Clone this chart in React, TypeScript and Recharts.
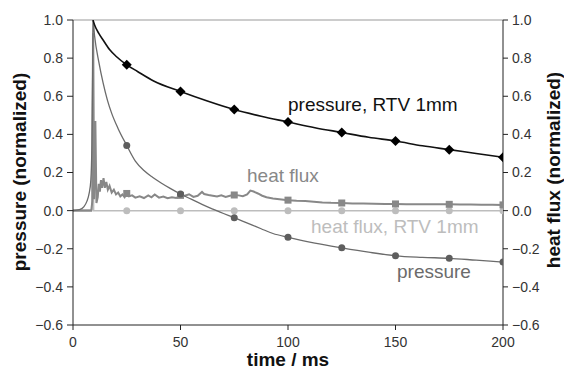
import { LineChart, Line, XAxis, YAxis, ReferenceLine } from "recharts";

const xTicks = [0, 50, 100, 150, 200];
const yTicks = [-0.6, -0.4, -0.2, 0, 0.2, 0.4, 0.6, 0.8, 1.0];
const markerTimes = [25, 50, 75, 100, 125, 150, 175, 200];

// pressure, RTV 1mm (black, diamonds)
const pressureRtvTime = [9.3, 10, 12, 14, 17, 20, 25, 30, 37.5, 50, 62.5, 75, 87.5, 100, 112.5, 125, 137.5, 150, 162.5, 175, 187.5, 200];
const pressureRtvValue = [1.0, 0.975, 0.93, 0.895, 0.845, 0.81, 0.765, 0.73, 0.68, 0.625, 0.575, 0.53, 0.495, 0.465, 0.435, 0.41, 0.385, 0.365, 0.34, 0.32, 0.3, 0.28];

// pressure (dark grey, circles)
const pressureTime = [0, 3, 5, 6.5, 7.5, 8.3, 8.8, 9.1, 9.3, 10, 12, 14, 16, 18, 21, 25, 29, 33, 37, 41, 45, 50, 55, 60, 65, 70, 75, 80, 87.5, 93, 100, 112.5, 125, 137.5, 150, 162.5, 175, 187.5, 200];
const pressureValue = [0, 0.005, 0.02, 0.05, 0.09, 0.16, 0.35, 0.7, 1.0, 0.92, 0.78, 0.67, 0.58, 0.51, 0.43, 0.342, 0.26, 0.21, 0.175, 0.145, 0.118, 0.087, 0.06, 0.033, 0.008, -0.015, -0.037, -0.06, -0.095, -0.12, -0.14, -0.17, -0.195, -0.218, -0.237, -0.245, -0.25, -0.26, -0.27];

// heat flux (grey, squares)
const heatFluxTime = [0, 5, 8.5, 9.0, 9.4, 9.8, 10.4, 10.9, 11.5, 12, 12.5, 13, 13.5, 14.2, 14.8, 15.5, 16.2, 17, 18, 19, 20, 21, 22, 23, 24, 25, 26, 27.5, 29, 31, 33, 35, 36.5, 38, 40, 42, 44, 46, 48, 50, 52, 54, 56, 58, 60, 61, 63, 65, 67, 69, 71, 73, 75, 77, 79, 81, 82.5, 84, 86, 88, 90, 93, 96, 100, 104, 108, 112, 116, 120, 125, 130, 135, 140, 145, 150, 155, 160, 165, 170, 175, 180, 185, 190, 195, 200];
const heatFluxValue = [0, 0, 0, 0.05, 0.93, 0.06, 0.47, 0.04, 0.07, 0.14, 0.1, 0.16, 0.12, 0.17, 0.12, 0.15, 0.11, 0.13, 0.095, 0.11, 0.085, 0.095, 0.075, 0.085, 0.07, 0.09, 0.075, 0.08, 0.068, 0.075, 0.066, 0.08, 0.07, 0.085, 0.068, 0.074, 0.065, 0.07, 0.066, 0.08, 0.078, 0.086, 0.072, 0.078, 0.098, 0.087, 0.082, 0.078, 0.074, 0.08, 0.072, 0.078, 0.082, 0.08, 0.076, 0.085, 0.105, 0.1, 0.09, 0.078, 0.07, 0.064, 0.06, 0.055, 0.052, 0.05, 0.046, 0.043, 0.041, 0.04, 0.038, 0.037, 0.036, 0.035, 0.035, 0.034, 0.034, 0.033, 0.033, 0.033, 0.032, 0.032, 0.031, 0.031, 0.03];

// heat flux, RTV 1mm (light grey, circles)
const heatFluxRtvTime = [0, 8.8, 9.2, 9.6, 25, 50, 75, 100, 125, 150, 175, 200];
const heatFluxRtvValue = [0.004, 0.004, 1.0, 0.0, 0, 0, 0, 0, 0, 0, 0, 0];

const zip = (ts: number[], vs: number[]) => ts.map((t, i) => ({ t, v: vs[i] }));

const pressureRtv = zip(pressureRtvTime, pressureRtvValue);
const pressure = zip(pressureTime, pressureValue);
const heatFlux = zip(heatFluxTime, heatFluxValue);
const heatFluxRtv = zip(heatFluxRtvTime, heatFluxRtvValue);

const markerSet = new Set(markerTimes);
const FONT = "'Liberation Sans', Arial, sans-serif";

function makeDot(shape: "diamond" | "circle" | "square", color: string, size: number) {
  return (props: any) => {
    const { cx, cy, payload, index } = props;
    const k = `${shape}-${color}-${index}`;
    if (cx == null || cy == null || !markerSet.has(payload.t)) return <g key={k} />;
    if (shape === "diamond") {
      return (
        <polygon
          key={k}
          points={`${cx},${cy - size} ${cx + size},${cy} ${cx},${cy + size} ${cx - size},${cy}`}
          fill={color}
        />
      );
    }
    if (shape === "square") {
      return <rect key={k} x={cx - size} y={cy - size} width={size * 2} height={size * 2} fill={color} />;
    }
    return <circle key={k} cx={cx} cy={cy} r={size} fill={color} />;
  };
}

const fmt = (v: number) => (v < -0.001 ? `\u2212${Math.abs(v).toFixed(1)}` : Math.abs(v).toFixed(1));

export default function App() {
  const tickStyle = { fontSize: 14, fill: "#333", fontFamily: FONT };
  return (
    <div style={{ position: "absolute", left: 0, top: 0, width: 564, height: 370, background: "#fff" }}>
      <LineChart width={564} height={370} margin={{ top: 20, right: 0, bottom: 0, left: 0 }}>
        <XAxis
          type="number"
          dataKey="t"
          domain={[0, 200]}
          ticks={xTicks}
          interval={0}
          height={45}
          tick={tickStyle}
          tickSize={5}
          tickMargin={7}
          axisLine={{ stroke: "#222" }}
          tickLine={{ stroke: "#222" }}
          allowDataOverflow
        />
        <YAxis
          yAxisId="left"
          domain={[-0.6, 1]}
          ticks={yTicks}
          interval={0}
          width={73}
          tick={tickStyle}
          tickFormatter={fmt}
          tickSize={6}
          tickMargin={4}
          axisLine={{ stroke: "#222" }}
          tickLine={{ stroke: "#222" }}
          allowDataOverflow
        />
        <YAxis
          yAxisId="right"
          orientation="right"
          domain={[-0.6, 1]}
          ticks={yTicks}
          interval={0}
          width={61}
          tick={tickStyle}
          tickFormatter={fmt}
          tickSize={5}
          tickMargin={4}
          axisLine={{ stroke: "#222" }}
          tickLine={{ stroke: "#222" }}
          allowDataOverflow
        />
        <ReferenceLine yAxisId="left" y={1} stroke="#999" strokeWidth={1.2} />
        <Line
          yAxisId="right"
          data={heatFluxRtv}
          dataKey="v"
          type="linear"
          stroke="#bdbdbd"
          strokeWidth={1.5}
          dot={makeDot("circle", "#bdbdbd", 3.5)}
          isAnimationActive={false}
        />
        <Line
          yAxisId="right"
          data={heatFlux}
          dataKey="v"
          type="linear"
          stroke="#888"
          strokeWidth={2}
          dot={makeDot("square", "#888", 3.5)}
          isAnimationActive={false}
        />
        <Line
          yAxisId="left"
          data={pressure}
          dataKey="v"
          type="monotone"
          stroke="#6b6b6b"
          strokeWidth={1.3}
          dot={makeDot("circle", "#5e5e5e", 3.5)}
          isAnimationActive={false}
        />
        <Line
          yAxisId="left"
          data={pressureRtv}
          dataKey="v"
          type="monotone"
          stroke="#111"
          strokeWidth={1.6}
          dot={makeDot("diamond", "#000", 5)}
          isAnimationActive={false}
        />
      </LineChart>
      <svg
        width={564}
        height={370}
        style={{ position: "absolute", left: 0, top: 0, pointerEvents: "none", fontFamily: FONT }}
      >
        <text x={19} y={172} transform="rotate(-90 19 172)" textAnchor="middle" dominantBaseline="central" fontSize={19} fontWeight="bold" fill="#111">
          pressure (normalized)
        </text>
        <text x={553} y={170} transform="rotate(-90 553 170)" textAnchor="middle" dominantBaseline="central" fontSize={19} fontWeight="bold" fill="#111">
          heat flux (normalized)
        </text>
        <text x={288} y={366} textAnchor="middle" fontSize={19} fontWeight="bold" fill="#111">
          time / ms
        </text>
        <text x={288} y={111} fontSize={19} fill="#111">
          pressure, RTV 1mm
        </text>
        <text x={247} y={182} fontSize={19} fill="#888">
          heat flux
        </text>
        <text x={311} y={233} fontSize={19} fill="#bdbdbd">
          heat flux, RTV 1mm
        </text>
        <text x={397} y={278} fontSize={19} fill="#6b6b6b">
          pressure
        </text>
      </svg>
    </div>
  );
}
